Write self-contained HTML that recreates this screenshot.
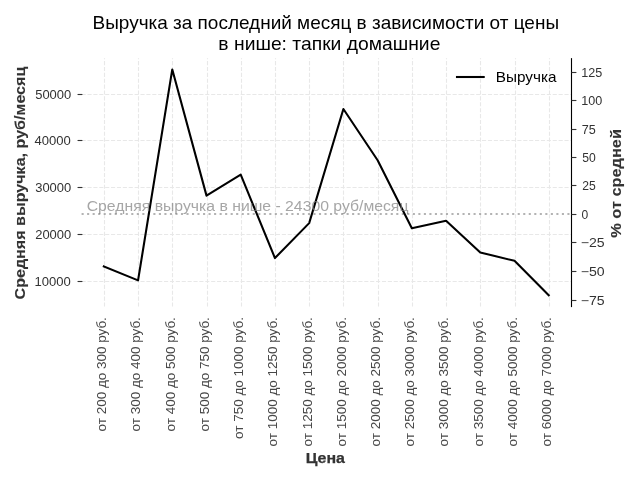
<!DOCTYPE html><html><head><meta charset="utf-8"><style>html,body{margin:0;padding:0;background:#fff;width:640px;height:480px;overflow:hidden}svg{display:block;will-change:transform}text{font-family:"Liberation Sans",sans-serif}</style></head><body>
<svg width="640" height="480" viewBox="0 0 640 480">
<rect width="640" height="480" fill="#fff"/>
<g stroke="#e8e8e8" stroke-width="1.111" stroke-dasharray="4.111 1.778" fill="none">
<path d="M104.5 306.60V58.13"/>
<path d="M138.5 306.60V58.13"/>
<path d="M172.5 306.60V58.13"/>
<path d="M207.5 306.60V58.13"/>
<path d="M241.5 306.60V58.13"/>
<path d="M275.5 306.60V58.13"/>
<path d="M309.5 306.60V58.13"/>
<path d="M343.5 306.60V58.13"/>
<path d="M378.5 306.60V58.13"/>
<path d="M412.5 306.60V58.13"/>
<path d="M446.5 306.60V58.13"/>
<path d="M480.5 306.60V58.13"/>
<path d="M515.5 306.60V58.13"/>
<path d="M549.5 306.60V58.13"/>
<path d="M81.59 94.5H570.97"/>
<path d="M81.59 140.5H570.97"/>
<path d="M81.59 187.5H570.97"/>
<path d="M81.59 234.5H570.97"/>
<path d="M81.59 281.5H570.97"/>
</g>
<path d="M81.59 214H570.97" stroke="#808080" stroke-opacity="0.6" stroke-width="2.083" stroke-dasharray="2.083 3.4375" fill="none"/>
<path d="M103.83 266.43 L138.06 280.4 L172.28 69.43 L206.5 195.64 L240.72 174.68 L274.95 258.05 L309.17 223.12 L343.39 109.01 L377.62 160.24 L411.84 228.24 L446.06 220.79 L480.28 252.46 L514.51 260.84 L548.73 295.3" stroke="#000" stroke-width="2.083" stroke-linejoin="round" stroke-linecap="square" fill="none"/>
<g stroke="#333333" stroke-width="1.111">
<path d="M77.55 94.5H82.42"/>
<path d="M77.55 140.5H82.42"/>
<path d="M77.55 187.5H82.42"/>
<path d="M77.55 234.5H82.42"/>
<path d="M77.55 281.5H82.42"/>
</g>
<path d="M571.5 58.13V307.10" stroke="#000" stroke-width="1.111"/>
<g stroke="#333333" stroke-width="1.111">
<path d="M571.5 72.5H576.4"/>
<path d="M571.5 100.5H576.4"/>
<path d="M571.5 129.5H576.4"/>
<path d="M571.5 157.5H576.4"/>
<path d="M571.5 185.5H576.4"/>
<path d="M571.5 214.5H576.4"/>
<path d="M571.5 242.5H576.4"/>
<path d="M571.5 271.5H576.4"/>
<path d="M571.5 300.5H576.4"/>
</g>
<path d="M457.0 77H483.7" stroke="#000" stroke-width="2.083" stroke-linecap="square"/>
<text x="106.19" y="431.40" font-size="12.337" textLength="114.28" lengthAdjust="spacingAndGlyphs" fill="#484848" transform="rotate(-90 106.19 431.40)">от 200 до 300 руб.</text>
<text x="140.42" y="431.40" font-size="12.337" textLength="114.28" lengthAdjust="spacingAndGlyphs" fill="#484848" transform="rotate(-90 140.42 431.40)">от 300 до 400 руб.</text>
<text x="174.64" y="431.40" font-size="12.337" textLength="114.28" lengthAdjust="spacingAndGlyphs" fill="#484848" transform="rotate(-90 174.64 431.40)">от 400 до 500 руб.</text>
<text x="208.86" y="431.40" font-size="12.337" textLength="114.28" lengthAdjust="spacingAndGlyphs" fill="#484848" transform="rotate(-90 208.86 431.40)">от 500 до 750 руб.</text>
<text x="243.08" y="438.91" font-size="12.337" textLength="121.79" lengthAdjust="spacingAndGlyphs" fill="#484848" transform="rotate(-90 243.08 438.91)">от 750 до 1000 руб.</text>
<text x="277.31" y="446.42" font-size="12.337" textLength="129.30" lengthAdjust="spacingAndGlyphs" fill="#484848" transform="rotate(-90 277.31 446.42)">от 1000 до 1250 руб.</text>
<text x="311.53" y="446.42" font-size="12.337" textLength="129.30" lengthAdjust="spacingAndGlyphs" fill="#484848" transform="rotate(-90 311.53 446.42)">от 1250 до 1500 руб.</text>
<text x="345.75" y="446.42" font-size="12.337" textLength="129.30" lengthAdjust="spacingAndGlyphs" fill="#484848" transform="rotate(-90 345.75 446.42)">от 1500 до 2000 руб.</text>
<text x="379.97" y="446.42" font-size="12.337" textLength="129.30" lengthAdjust="spacingAndGlyphs" fill="#484848" transform="rotate(-90 379.97 446.42)">от 2000 до 2500 руб.</text>
<text x="414.20" y="446.42" font-size="12.337" textLength="129.30" lengthAdjust="spacingAndGlyphs" fill="#484848" transform="rotate(-90 414.20 446.42)">от 2500 до 3000 руб.</text>
<text x="448.42" y="446.42" font-size="12.337" textLength="129.30" lengthAdjust="spacingAndGlyphs" fill="#484848" transform="rotate(-90 448.42 446.42)">от 3000 до 3500 руб.</text>
<text x="482.64" y="446.42" font-size="12.337" textLength="129.30" lengthAdjust="spacingAndGlyphs" fill="#484848" transform="rotate(-90 482.64 446.42)">от 3500 до 4000 руб.</text>
<text x="516.86" y="446.42" font-size="12.337" textLength="129.30" lengthAdjust="spacingAndGlyphs" fill="#484848" transform="rotate(-90 516.86 446.42)">от 4000 до 5000 руб.</text>
<text x="551.09" y="446.42" font-size="12.337" textLength="129.30" lengthAdjust="spacingAndGlyphs" fill="#484848" transform="rotate(-90 551.09 446.42)">от 6000 до 7000 руб.</text>
<text x="325.28" y="463.00" font-size="14.514" textLength="39.27" lengthAdjust="spacingAndGlyphs" font-weight="bold" text-anchor="middle" fill="#333333" stroke="#333333" stroke-width="0.25">Цена</text>
<text x="70.87" y="286.00" font-size="12.337" textLength="36.36" lengthAdjust="spacingAndGlyphs" text-anchor="end" fill="#333333">10000</text>
<text x="71.27" y="239.00" font-size="12.337" textLength="36.06" lengthAdjust="spacingAndGlyphs" text-anchor="end" fill="#333333">20000</text>
<text x="71.27" y="192.00" font-size="12.337" textLength="36.06" lengthAdjust="spacingAndGlyphs" text-anchor="end" fill="#333333">30000</text>
<text x="70.87" y="145.00" font-size="12.337" textLength="36.36" lengthAdjust="spacingAndGlyphs" text-anchor="end" fill="#333333">40000</text>
<text x="71.27" y="99.00" font-size="12.337" textLength="36.06" lengthAdjust="spacingAndGlyphs" text-anchor="end" fill="#333333">50000</text>
<text x="24.76" y="183.07" font-size="14.514" textLength="232.81" lengthAdjust="spacingAndGlyphs" font-weight="bold" text-anchor="middle" fill="#333333" stroke="#333333" stroke-width="0.1" transform="rotate(-90 24.76 183.07)">Средняя выручка, руб/месяц</text>
<text x="86.72" y="211.00" font-size="14.514" textLength="321.72" lengthAdjust="spacingAndGlyphs" fill="#808080" fill-opacity="0.7">Средняя выручка в нише - 24300 руб/месяц</text>
<text x="92.53" y="29.00" font-size="18.333" textLength="466.51" lengthAdjust="spacingAndGlyphs" fill="#000000">Выручка за последний месяц в зависимости от цены</text>
<text x="218.37" y="49.50" font-size="18.333" textLength="222.02" lengthAdjust="spacingAndGlyphs" fill="#000000">в нише: тапки домашние</text>
<text x="495.83" y="82.00" font-size="14.514" textLength="60.64" lengthAdjust="spacingAndGlyphs" fill="#000000">Выручка</text>
<text x="580.69" y="305.00" font-size="12.337" textLength="23.91" lengthAdjust="spacingAndGlyphs" fill="#333333">−75</text>
<text x="580.69" y="276.00" font-size="12.337" textLength="23.91" lengthAdjust="spacingAndGlyphs" fill="#333333">−50</text>
<text x="580.69" y="247.00" font-size="12.337" textLength="23.91" lengthAdjust="spacingAndGlyphs" fill="#333333">−25</text>
<text x="581.49" y="219.00" font-size="12.337" textLength="6.71" lengthAdjust="spacingAndGlyphs" fill="#333333">0</text>
<text x="582.19" y="190.00" font-size="12.337" textLength="13.52" lengthAdjust="spacingAndGlyphs" fill="#333333">25</text>
<text x="582.19" y="162.00" font-size="12.337" textLength="13.52" lengthAdjust="spacingAndGlyphs" fill="#333333">50</text>
<text x="581.69" y="134.00" font-size="12.337" textLength="14.02" lengthAdjust="spacingAndGlyphs" fill="#333333">75</text>
<text x="581.19" y="105.00" font-size="12.337" textLength="21.03" lengthAdjust="spacingAndGlyphs" fill="#333333">100</text>
<text x="581.19" y="77.00" font-size="12.337" textLength="21.03" lengthAdjust="spacingAndGlyphs" fill="#333333">125</text>
<text x="620.78" y="183.37" font-size="14.514" textLength="108.74" lengthAdjust="spacingAndGlyphs" font-weight="bold" text-anchor="middle" fill="#333333" stroke="#333333" stroke-width="0.1" transform="rotate(-90 620.78 183.37)">% от средней</text>
</svg></body></html>
